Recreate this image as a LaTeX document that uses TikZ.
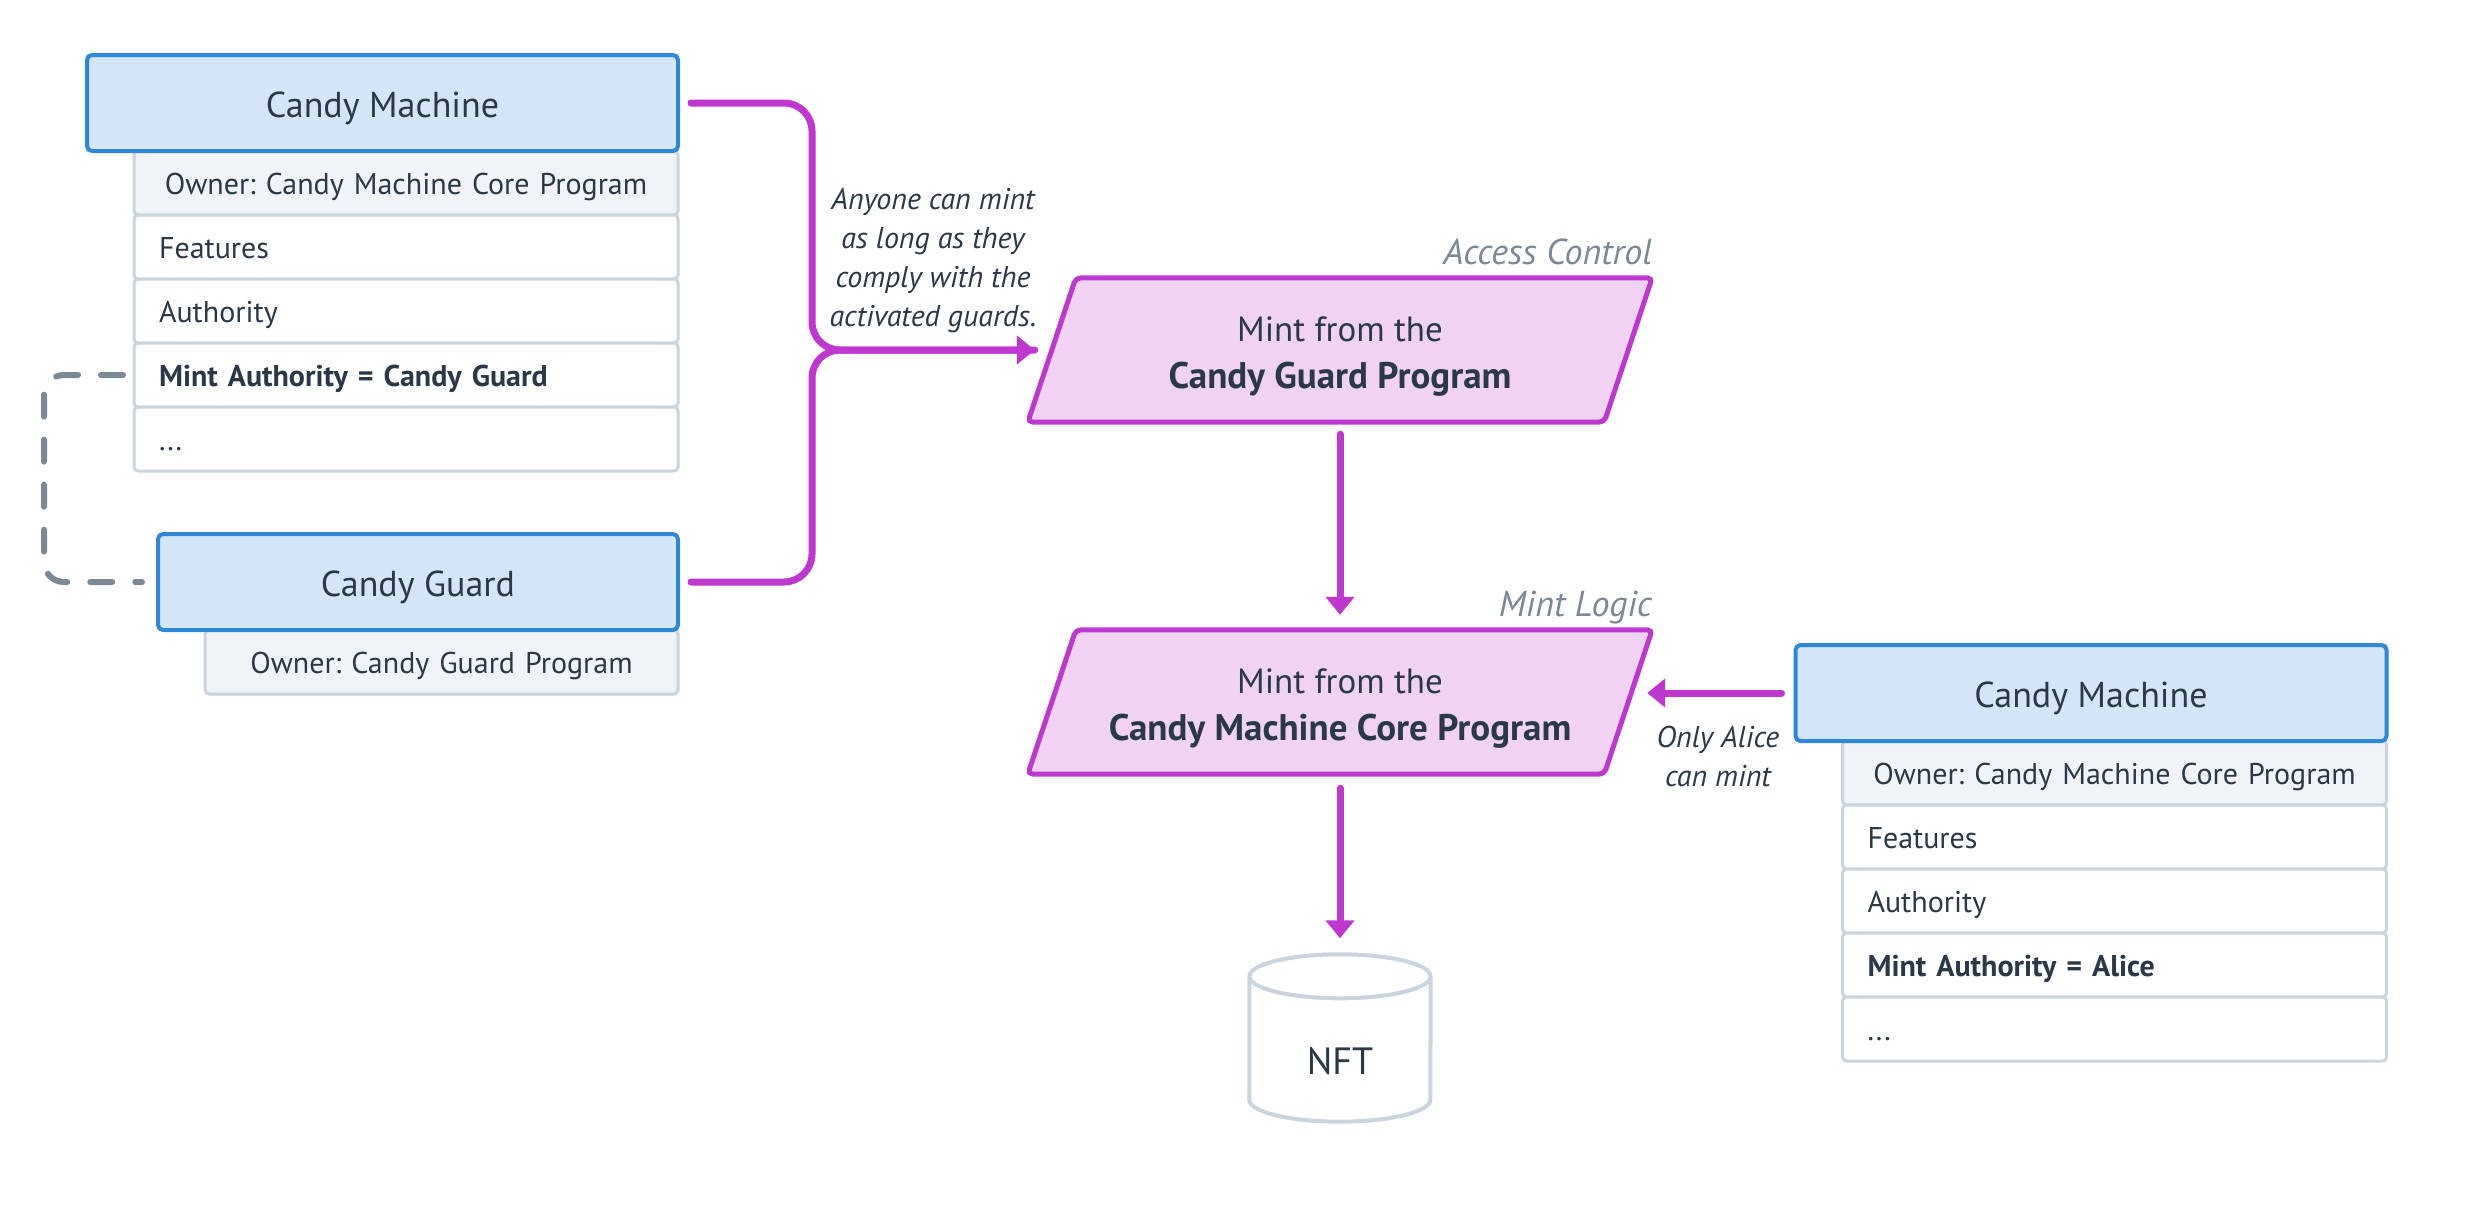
\documentclass[tikz,border=0pt]{standalone}
\usepackage{fontspec}
\setmainfont{PT Sans}
\frenchspacing
\usetikzlibrary{arrows.meta,backgrounds,calc}
\definecolor{ink}{HTML}{2A3848}
\definecolor{hfill}{HTML}{D3E5F6}
\definecolor{hline}{HTML}{2D88D9}
\definecolor{ownfill}{HTML}{F0F4F8}
\definecolor{rowline}{HTML}{C9D4DE}
\definecolor{mag}{HTML}{BE38CF}
\definecolor{pfill}{HTML}{F0D3F3}
\definecolor{grayc}{HTML}{7B8896}
\newcommand{\bigbold}[1]{{\fontsize{37}{47}\selectfont\bfseries #1}}
\newcommand{\topstrut}{\rule{0pt}{38pt}}
\tikzset{
  head/.style={draw=hline, fill=hfill, line width=4pt, rounded corners=5pt, outer sep=0pt,
    minimum height=96pt, inner sep=0pt, text=ink, text height=28pt, text depth=0pt,
    font=\fontsize{36}{42}\selectfont},
  row/.style={draw=rowline, fill=white, line width=3pt, rounded corners=4pt, outer sep=0pt,
    minimum height=64pt, inner ysep=0pt, inner xsep=25pt, text width=494pt, align=left,
    text height=23pt, text depth=0pt,
    anchor=north west, text=ink, font=\fontsize{30}{34}\selectfont},
  ownrow/.style={row, fill=ownfill, align=center},
  paral/.style={minimum width=624pt, minimum height=144pt, inner sep=0pt, align=center,
    text=ink, font=\fontsize{35}{47}\selectfont},
  paraldraw/.style={draw=mag, fill=pfill, line width=5pt, rounded corners=5pt},
  grayit/.style={text=grayc, font=\fontsize{36}{42}\selectfont\itshape, inner sep=0pt},
  noteit/.style={text=ink, align=center, inner sep=0pt, font=\fontsize{30}{39}\selectfont\itshape},
  magline/.style={draw=mag, line width=7pt, line cap=round, rounded corners=28pt},
  magarrow/.style={magline, -{Triangle[length=18pt,width=28pt]}},
  dashgray/.style={draw=grayc, line width=6pt, line cap=round, dash pattern=on 22pt off 23pt, rounded corners=20pt},
  cylbox/.style={minimum width=181pt, minimum height=167pt, inner sep=0pt},
  cyl/.style={draw=rowline, line width=4pt, fill=white},
}
\begin{document}
\begin{tikzpicture}[x=1pt,y=-1pt]
\useasboundingbox (0,0) rectangle (2472,1226);
\begin{scope}[on background layer]
\fill[white] (0,0) rectangle (2472,1226);
\end{scope}

% ---- left Candy Machine
\node[ownrow] (o1) at (134,151) {Owner: Candy Machine Core Program};
\node[row] (f1) at (o1.south west) {Features};
\node[row] (a1) at (f1.south west) {Authority};
\node[row] (ma1) at (a1.south west) {\textbf{Mint Authority = Candy Guard}};
\node[row] (d1) at (ma1.south west) {...};
\node[head, minimum width=591pt] (cm1) at (382.5,103) {Candy Machine};

% ---- Candy Guard
\node[ownrow, text width=423pt] (o2) at (205,630) {Owner: Candy Guard Program};
\node[head, minimum width=520pt] (cg) at (418,582) {Candy Guard};

% ---- right Candy Machine
\node[ownrow] (o3) at (1842.5,741) {Owner: Candy Machine Core Program};
\node[row] (f3) at (o3.south west) {Features};
\node[row] (a3) at (f3.south west) {Authority};
\node[row] (ma3) at (a3.south west) {\textbf{Mint Authority = Alice}};
\node[row] (d3) at (ma3.south west) {...};
\node[head, minimum width=591pt] (cm2) at (2091,693) {Candy Machine};

% ---- parallelograms
\node[paral] (ag) at (1340,350) {\topstrut Mint from the\\\bigbold{Candy Guard Program}};
\node[paral] (ml) at (1340,702) {\topstrut Mint from the\\\bigbold{Candy Machine Core Program}};
\begin{scope}[on background layer]
\draw[paraldraw] ([xshift=48pt]ag.north west) -- (ag.north east) -- ([xshift=-48pt]ag.south east) -- (ag.south west) -- cycle;
\draw[paraldraw] ([xshift=48pt]ml.north west) -- (ml.north east) -- ([xshift=-48pt]ml.south east) -- (ml.south west) -- cycle;
\end{scope}
\node[grayit, anchor=base east] (acl) at ([yshift=13pt]ag.north east) {Access Control};
\node[grayit, anchor=base east] (mll) at ([yshift=13pt]ml.north east) {Mint Logic};

% ---- NFT cylinder
\node[cylbox] (nft) at (1340,1038) {};
\draw[cyl] ([yshift=-22pt]nft.north west) -- ([yshift=22pt]nft.south west)
  arc[start angle=180, end angle=360, x radius=90.5pt, y radius=22pt]
  -- ([yshift=-22pt]nft.north east);
\draw[cyl] ([yshift=-22pt]nft.north) ellipse [x radius=90.5pt, y radius=22pt];
\node[text=ink, font=\fontsize{38}{44}\selectfont, inner sep=0pt] (nftt) at ([yshift=-23pt]nft.center) {NFT};

% ---- connectors
\coordinate (j) at (812,350);
\draw[magline] ([xshift=13pt]cg.east) -| (j) -- ([xshift=7pt]ag.west);
\draw[magarrow] ([xshift=13pt]cm1.east) -| (j) -- ([xshift=7pt]ag.west);
\node[noteit] (note1) at (933,261) {Anyone can mint\\as long as they\\comply with the\\activated guards.};

\draw[magarrow] ([yshift=-12pt]ag.south) -- ([yshift=15pt]ml.north);
\draw[magarrow] ([yshift=-14pt]ml.south) -- ([yshift=16pt]nft.north);
\draw[magarrow] ([xshift=-14pt]cm2.west) -- ([xshift=-5pt]ml.east |- cm2.west);
\node[noteit] (note2) at (1718,756) {Only Alice\\can mint};

\draw[dashgray] ([xshift=-11pt]ma1.west) -- ++(-79,0) |- ([xshift=-16pt]cg.west);
\end{tikzpicture}
\end{document}
